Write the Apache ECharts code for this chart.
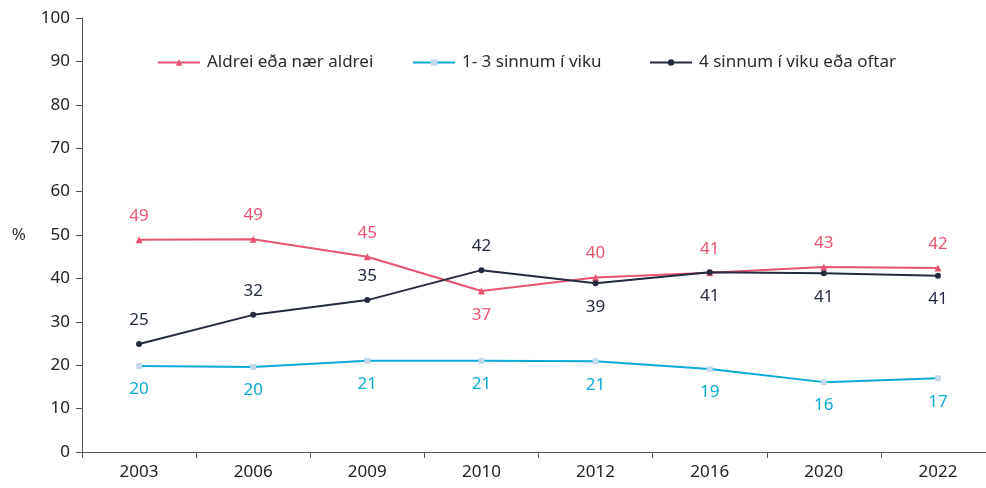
<!DOCTYPE html>
<html><head><meta charset="utf-8">
<script src="https://cdn.jsdelivr.net/npm/echarts@6/dist/echarts.min.js"></script>
<style>html,body{margin:0;padding:0;background:#fff}#c{width:986px;height:488px}</style>
</head><body><div id="c"></div>
<script>
const categories = ['2003','2006','2009','2010','2012','2016','2020','2022'];
const aldrei = [48.9, 49.0, 45.0, 37.1, 40.2, 41.3, 42.6, 42.4];
const sinnum13 = [19.8, 19.6, 21.0, 21.0, 20.9, 19.1, 16.1, 17.0];
const sinnum4 = [24.9, 31.6, 35.0, 41.9, 38.9, 41.4, 41.2, 40.6];
const aldreiLabelPos = ['top','top','top','bottom','top','top','top','top'];
const s4LabelPos = ['top','top','top','top','bottom','bottom','bottom','bottom'];
const seriesNames = ['Aldrei eða nær aldrei','1- 3 sinnum í viku','4 sinnum í viku eða oftar'];
const yTicks = [0,10,20,30,40,50,60,70,80,90,100];

const font = 'Noto Sans';
const red = '#e8546f', cyan = '#0aaad6', dark = '#242b3f';
const legendLeft = [152, 407, 644];
function mk(vals, pos){ return vals.map((v,i)=>({value:v, label:{position:pos[i]}})); }
const chart = echarts.init(document.getElementById('c'));
chart.setOption({
  animation:false,
  textStyle:{fontFamily:font},
  grid:{left:82, top:18, right:-9, bottom:36, outerBoundsMode:'none', containLabel:false},
  legend: seriesNames.map((n,i)=>({top:49, left:legendLeft[i], itemWidth:42, itemHeight:8, itemGap:0,
    textStyle:{fontSize:17, color:'#2a2a2a', fontFamily:font, padding:[0,0,0,2]}, data:[n]})),
  xAxis:{type:'category', data:categories, boundaryGap:true,
    axisLine:{lineStyle:{color:'#555', width:1}},
    axisTick:{show:true, length:6, lineStyle:{color:'#555'}},
    axisLabel:{fontSize:17, color:'#222', margin:12, fontFamily:font}},
  yAxis:{type:'value', min:0, max:100, interval:10,
    name:'%', nameLocation:'middle', nameRotate:0, nameGap:56,
    nameTextStyle:{fontSize:17, color:'#333', fontFamily:font},
    axisLine:{show:true, lineStyle:{color:'#555'}},
    axisTick:{show:true, length:6, lineStyle:{color:'#555'}},
    splitLine:{show:false},
    axisLabel:{fontSize:17, color:'#222', margin:12, fontFamily:font,
      formatter:v=>yTicks.includes(v)?String(v):''}},
  series:[
    {name:seriesNames[0], type:'line', data:mk(aldrei,aldreiLabelPos),
     symbol:'triangle', symbolSize:7, itemStyle:{color:red}, lineStyle:{color:red,width:2},
     label:{show:true, fontSize:17, color:red, distance:12, fontFamily:font, formatter:p=>Math.round(p.value)}},
    {name:seriesNames[1], type:'line', data:sinnum13,
     symbol:'rect', symbolSize:6, itemStyle:{color:'#c3d9ee'}, lineStyle:{color:cyan,width:2},
     label:{show:true, position:'bottom', fontSize:17, color:cyan, distance:12, fontFamily:font, formatter:p=>Math.round(p.value)}},
    {name:seriesNames[2], type:'line', data:mk(sinnum4,s4LabelPos),
     symbol:'circle', symbolSize:6, itemStyle:{color:dark}, lineStyle:{color:dark,width:2},
     label:{show:true, fontSize:17, color:dark, distance:12, fontFamily:font, formatter:p=>Math.round(p.value)}}
  ]
});
</script></body></html>
